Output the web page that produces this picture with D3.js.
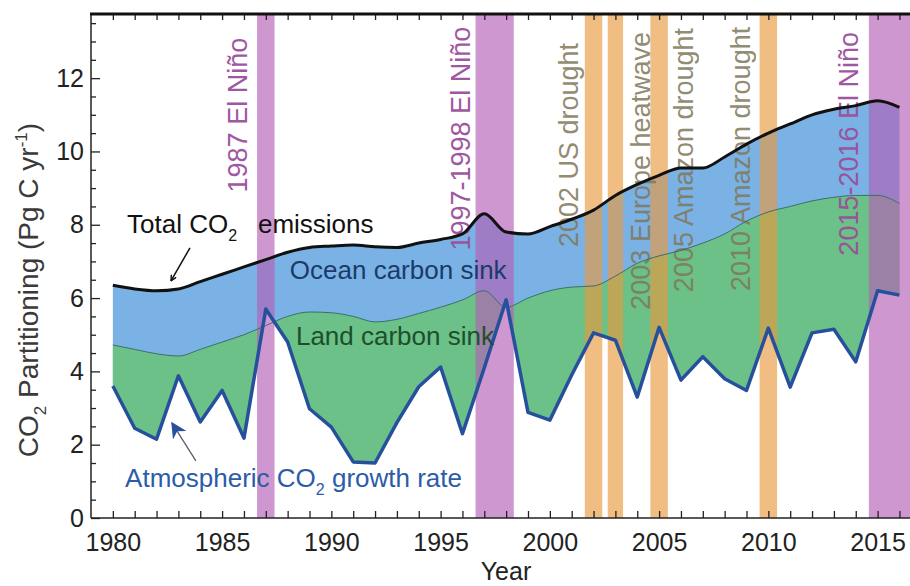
<!DOCTYPE html>
<html>
<head>
<meta charset="utf-8">
<script src="https://cdn.jsdelivr.net/npm/d3@7"></script>
<style>
  body { margin: 0; background: #fff; }
  text { font-family: "Liberation Sans", Arial, sans-serif; }
</style>
</head>
<body>
<div id="chart"></div>
<script>
// data (Pg C / yr)
var years = d3.range(1980, 2017);
var emissions = [6.35, 6.25, 6.2, 6.25, 6.45, 6.65, 6.85, 7.05, 7.25, 7.38, 7.42, 7.45, 7.4, 7.38, 7.5, 7.6, 7.75, 8.3, 7.8, 7.75,
                 7.95, 8.15, 8.4, 8.8, 9.1, 9.35, 9.55, 9.55, 9.85, 10.2, 10.5, 10.75, 11.0, 11.15, 11.25, 11.38, 11.2];
// top of the land sink band (atmosphere + land)
var landTop = [4.72, 4.6, 4.48, 4.42, 4.6, 4.8, 5.0, 5.25, 5.5, 5.62, 5.6, 5.5, 5.35, 5.42, 5.58, 5.75, 5.95, 6.2, 5.75, 6.0,
               6.2, 6.3, 6.33, 6.6, 6.95, 7.15, 7.3, 7.5, 7.75, 8.1, 8.35, 8.5, 8.65, 8.75, 8.8, 8.8, 8.58];
var atmGrowth = [3.6, 2.45, 2.15, 3.88, 2.62, 3.48, 2.18, 5.7, 4.8, 2.98, 2.48, 1.53, 1.5, 2.6, 3.58, 4.12, 2.3, 4.1, 5.95, 2.88,
                 2.67, 3.9, 5.05, 4.85, 3.3, 5.2, 3.76, 4.4, 3.8, 3.48, 5.18, 3.57, 5.05, 5.15, 4.26, 6.2, 6.08];

var eventNames = ["1987 El Niño", "1997-1998 El Niño", "2002 US drought", "2003 Europe heatwave",
                  "2005 Amazon drought", "2010 Amazon drought", "2015-2016 El Niño"];
var eventKind = ["nino", "nino", "drought", "drought", "drought", "drought", "nino"];
var eventStart = [1986.6, 1996.6, 2001.6, 2002.65, 2004.6, 2009.6, 2014.6];
var eventEnd = [1987.4, 1998.35, 2002.4, 2003.35, 2005.4, 2010.4, 2016.6];
var eventLabelYear = [1986.14, 1996.35, 2001.29, 2004.58, 2006.55, 2009.16, 2014.1];
var eventLabelTop = [13.1, 13.4, 12.96, 13.26, 13.37, 13.4, 13.26];

var W = 910, H = 586;
var svg = d3.select("#chart").append("svg")
  .attr("width", W).attr("height", H);

var x = d3.scaleLinear().domain([1979, 2017]).range([91, 91 + 38 * 21.85]);
var y = d3.scaleLinear().domain([0, 13.75]).range([518, 14]);

var rows = years.map(function(yr, i){
  return {year: yr, em: emissions[i], land: landTop[i], atm: atmGrowth[i]};
});

var plot = svg.append("g");

// ocean band: everything under emissions line
plot.append("path").datum(rows)
  .attr("fill", "#7ab2e5")
  .attr("d", d3.area().x(function(d){ return x(d.year); })
    .y0(y(0)).y1(function(d){ return y(d.em); }).curve(d3.curveMonotoneX));
// land band
plot.append("path").datum(rows)
  .attr("fill", "#6bc187")
  .attr("d", d3.area().x(function(d){ return x(d.year); })
    .y0(y(0)).y1(function(d){ return y(d.land); }).curve(d3.curveMonotoneX));
// below atmospheric growth: blank
plot.append("path").datum(rows)
  .attr("fill", "#fff").attr("stroke", "#fff").attr("stroke-width", 1.5)
  .attr("d", d3.area().x(function(d){ return x(d.year); })
    .y0(y(0)).y1(function(d){ return y(d.atm); }));

// event bands
eventNames.forEach(function(name, i){
  plot.append("rect")
    .attr("x", x(eventStart[i]))
    .attr("width", x(eventEnd[i]) - x(eventStart[i]))
    .attr("y", y(13.75))
    .attr("height", y(0) - y(13.75))
    .attr("fill", eventKind[i] == "nino" ? "#b35fb5" : "#e89a40")
    .attr("opacity", 0.65);
});

// event labels
eventNames.forEach(function(name, i){
  plot.append("text")
    .attr("transform", "translate(" + x(eventLabelYear[i]) + "," + y(eventLabelTop[i]) + ") rotate(-90)")
    .attr("text-anchor", "end")
    .attr("font-size", 27)
    .attr("fill", eventKind[i] == "nino" ? "#9a4f9c" : "#80785a")
    .attr("opacity", eventKind[i] == "nino" ? 0.95 : 0.85)
    .text(name);
});

// land/ocean boundary
plot.append("path").datum(rows)
  .attr("fill", "none").attr("stroke", "#3b6f6c").attr("stroke-width", 1)
  .attr("d", d3.line().x(function(d){ return x(d.year); }).y(function(d){ return y(d.land); }).curve(d3.curveMonotoneX));
// emissions
plot.append("path").datum(rows)
  .attr("fill", "none").attr("stroke", "#111").attr("stroke-width", 3)
  .attr("d", d3.line().x(function(d){ return x(d.year); }).y(function(d){ return y(d.em); }).curve(d3.curveMonotoneX));
// atmospheric growth
plot.append("path").datum(rows)
  .attr("fill", "none").attr("stroke", "#27509c").attr("stroke-width", 3.5)
  .attr("stroke-linejoin", "round")
  .attr("d", d3.line().x(function(d){ return x(d.year); }).y(function(d){ return y(d.atm); }));

// annotations
var ann = svg.append("g").attr("font-size", 26);
var t1 = ann.append("text").attr("x", x(1980.65)).attr("y", y(7.78)).attr("fill", "#111");
t1.append("tspan").text("Total CO");
t1.append("tspan").attr("font-size", 16).attr("dy", 8).text("2");
ann.append("text").attr("x", x(1986.64)).attr("y", y(7.78)).attr("fill", "#111").text("emissions");

ann.append("text").attr("x", x(1988.1)).attr("y", y(6.52)).attr("fill", "#1b3a6c").text("Ocean carbon sink");
ann.append("text").attr("x", x(1988.38)).attr("y", y(4.72)).attr("fill", "#1d4f2c").text("Land carbon sink");

var t2 = ann.append("text").attr("x", x(1980.56)).attr("y", y(0.85)).attr("fill", "#2b5ca8");
t2.append("tspan").text("Atmospheric CO");
t2.append("tspan").attr("font-size", 16).attr("dy", 8).text("2");
t2.append("tspan").attr("dy", -8).text(" growth rate");

// arrows
var defs = svg.append("defs");
defs.append("marker").attr("id", "openHead").attr("viewBox", "0 0 10 10")
  .attr("refX", 9).attr("refY", 5).attr("markerWidth", 7).attr("markerHeight", 7)
  .attr("orient", "auto").attr("markerUnits", "userSpaceOnUse")
  .append("path").attr("d", "M1,1 L9,5 L1,9").attr("fill", "none").attr("stroke", "#111").attr("stroke-width", 2);
defs.append("marker").attr("id", "fillHead").attr("viewBox", "0 0 10 10")
  .attr("refX", 9).attr("refY", 5).attr("markerWidth", 16).attr("markerHeight", 16)
  .attr("orient", "auto").attr("markerUnits", "userSpaceOnUse")
  .append("path").attr("d", "M0,0 L10,5 L0,10 L3,5 Z").attr("fill", "#27509c");
ann.append("line")
  .attr("x1", x(1983.53)).attr("y1", y(7.37)).attr("x2", x(1982.66)).attr("y2", y(6.47))
  .attr("stroke", "#111").attr("stroke-width", 1.5).attr("marker-end", "url(#openHead)");
ann.append("line")
  .attr("x1", x(1983.8)).attr("y1", y(1.56)).attr("x2", x(1982.71)).attr("y2", y(2.59))
  .attr("stroke", "#556").attr("stroke-width", 1.2).attr("marker-end", "url(#fillHead)");

// axes with inward ticks
svg.append("g").attr("transform", "translate(0," + y(0) + ")")
  .call(d3.axisBottom(x).tickValues(years).tickSize(-7).tickPadding(15)
    .tickFormat(function(d){ return d % 5 === 0 ? d : ""; }));
svg.append("g").attr("transform", "translate(0," + y(13.75) + ")")
  .call(d3.axisTop(x).tickValues(years).tickSize(-6).tickFormat(""));
var yAxis = svg.append("g").attr("transform", "translate(" + x(1979) + ",0)")
  .call(d3.axisLeft(y).tickValues(d3.range(0, 13.6, 0.5)).tickSize(-5).tickPadding(7)
    .tickFormat(function(d){ return d % 2 === 0 ? d : ""; }));
yAxis.selectAll(".tick line").filter(function(d){ return d % 2 === 0; }).attr("x2", 9);

svg.selectAll(".domain").remove();
svg.selectAll(".tick line").attr("stroke", "#222").attr("stroke-width", 1.3);
svg.selectAll(".tick text").attr("font-size", 25).attr("fill", "#222")
  .attr("font-family", "'Liberation Sans', Arial, sans-serif");

// frame
svg.append("line").attr("x1", x(1979)).attr("x2", x(1979)).attr("y1", y(13.75)).attr("y2", y(0))
  .attr("stroke", "#222").attr("stroke-width", 1.5);
svg.append("line").attr("x1", x(1979)).attr("x2", W).attr("y1", y(0)).attr("y2", y(0))
  .attr("stroke", "#222").attr("stroke-width", 1.5);
svg.append("line").attr("x1", x(1979) - 1).attr("x2", W).attr("y1", y(13.75)).attr("y2", y(13.75))
  .attr("stroke", "#111").attr("stroke-width", 3);

// axis titles
svg.append("text").attr("x", 506).attr("y", 580).attr("text-anchor", "middle")
  .attr("font-size", 25).attr("fill", "#222").text("Year");
var yl = svg.append("text").attr("transform", "translate(38,290) rotate(-90)")
  .attr("text-anchor", "middle").attr("font-size", 28).attr("fill", "#3a3a3a");
yl.append("tspan").text("CO");
yl.append("tspan").attr("font-size", 17).attr("dy", 8).text("2");
yl.append("tspan").attr("dy", -8).text(" Partitioning (Pg C yr");
yl.append("tspan").attr("font-size", 17).attr("dy", -11).text("-1");
yl.append("tspan").attr("dy", 11).text(")");
</script>
</body>
</html>
